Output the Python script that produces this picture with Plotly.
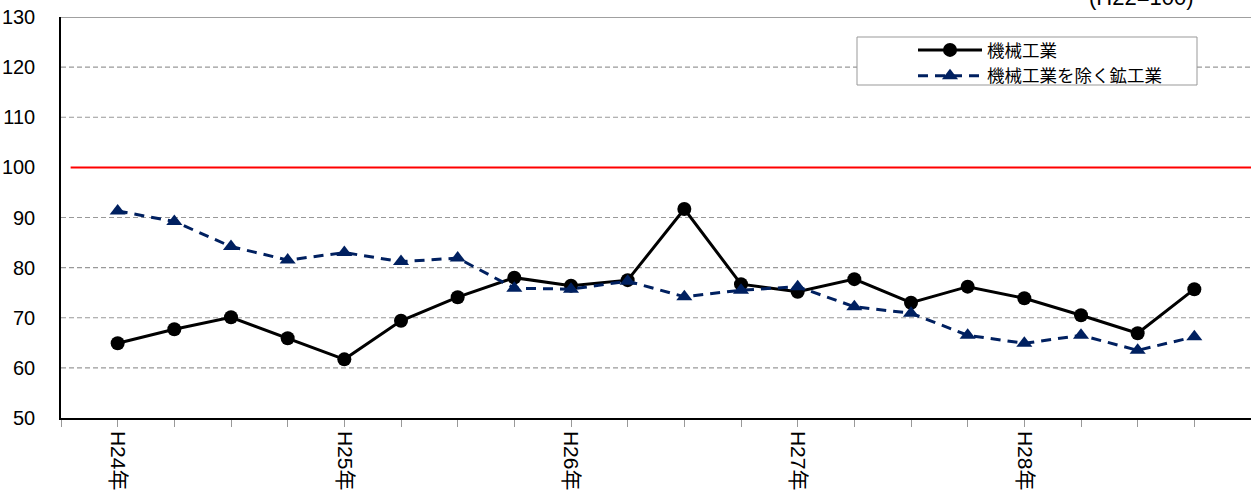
import plotly.graph_objects as go

# Data (quarterly, H24 Q1 .. H28 Q4)
x_idx = list(range(20))
machinery = [64.9, 67.7, 70.1, 65.9, 61.7, 69.4, 74.1, 78.0, 76.4, 77.5,
             91.7, 76.7, 75.2, 77.7, 73.0, 76.2, 73.9, 70.5, 66.9, 75.7]
mining_ex = [91.3, 89.2, 84.2, 81.5, 83.0, 81.2, 81.9, 75.9, 75.7, 77.3,
             74.2, 75.5, 76.2, 72.2, 70.9, 66.5, 64.9, 66.5, 63.5, 66.2]
year_labels = {0: "H24年", 4: "H25年", 8: "H26年", 12: "H27年", 16: "H28年"}
BASE = 100
y_ticks = [50, 60, 70, 80, 90, 100, 110, 120, 130]
name1 = "機械工業"
name2 = "機械工業を除く鉱工業"
note = "(H22=100)"

FONT = "Liberation Sans, Arial, Noto Sans CJK JP, sans-serif"
NAVY = "#002060"

fig = go.Figure()
fig.add_trace(go.Scatter(
    x=x_idx, y=machinery, name=name1, mode="lines+markers",
    line=dict(color="black", width=3),
    marker=dict(symbol="circle", size=14, color="black"),
))
fig.add_trace(go.Scatter(
    x=x_idx, y=mining_ex, name=name2, mode="lines+markers",
    line=dict(color=NAVY, width=3, dash="10px,7px"),
    marker=dict(symbol="triangle-up", size=14, color=NAVY),
))

tickvals = list(range(-1, 20))
ticktext = [year_labels.get(v, "") for v in tickvals]

# plot area: x 61..1251 px, y 17..418 px
def px_x(p):
    return (p - 61) / 1190.0

def px_y(p):
    return (418 - p) / 401.0

shapes = []
for v in y_ticks:
    if v in (50, BASE, 130):
        continue
    shapes.append(dict(type="line", xref="paper", x0=0, x1=1, yref="y", y0=v, y1=v,
                       line=dict(color="#999999", width=1.2, dash="5px,3px"), layer="below"))
shapes.append(dict(type="line", xref="x", x0=-0.83, x1=20, yref="y", y0=BASE, y1=BASE,
                   line=dict(color="#ff0000", width=2), layer="below"))
shapes.append(dict(type="line", xref="paper", x0=0, x1=1, yref="y", y0=130, y1=130,
                   line=dict(color="#808080", width=1.5)))
# legend frame
shapes.append(dict(type="rect", xref="paper", yref="paper",
                   x0=px_x(857), x1=px_x(1197), y0=px_y(85), y1=px_y(37),
                   line=dict(color="#999999", width=1), fillcolor="white", layer="below"))

fig.update_layout(
    width=1251, height=492,
    margin=dict(l=61, r=0, t=17, b=74),
    paper_bgcolor="white", plot_bgcolor="white",
    font=dict(family=FONT, color="black"),
    showlegend=True,
    legend=dict(x=px_x(913), y=px_y(32), xanchor="left", yanchor="top",
                borderwidth=0, bgcolor="rgba(0,0,0,0)",
                font=dict(size=17.5, family=FONT), itemwidth=64,
                tracegroupgap=0),
    shapes=shapes,
    xaxis=dict(range=[-1, 20], tickvals=tickvals, ticktext=ticktext,
               tickangle=90, showgrid=False, zeroline=False,
               showline=True, linecolor="black", linewidth=1.5,
               ticks="outside", ticklen=7, tickcolor="#999999",
               tickfont=dict(size=21, family=FONT)),
    yaxis=dict(range=[50, 130], tickvals=y_ticks, showgrid=False, zeroline=False,
               showline=True, linecolor="black", linewidth=1.5,
               ticks="", ticklabelstandoff=20,
               tickfont=dict(size=20, family=FONT)),
    annotations=[dict(text=note, xref="paper", yref="paper", x=px_x(1196), y=px_y(-3),
                      xanchor="right", yanchor="middle", showarrow=False,
                      font=dict(size=22, family=FONT))],
)

fig.write_html("out.html", config={"displayModeBar": False},
               post_script="document.body.style.margin='0';document.body.style.overflow='hidden';")
